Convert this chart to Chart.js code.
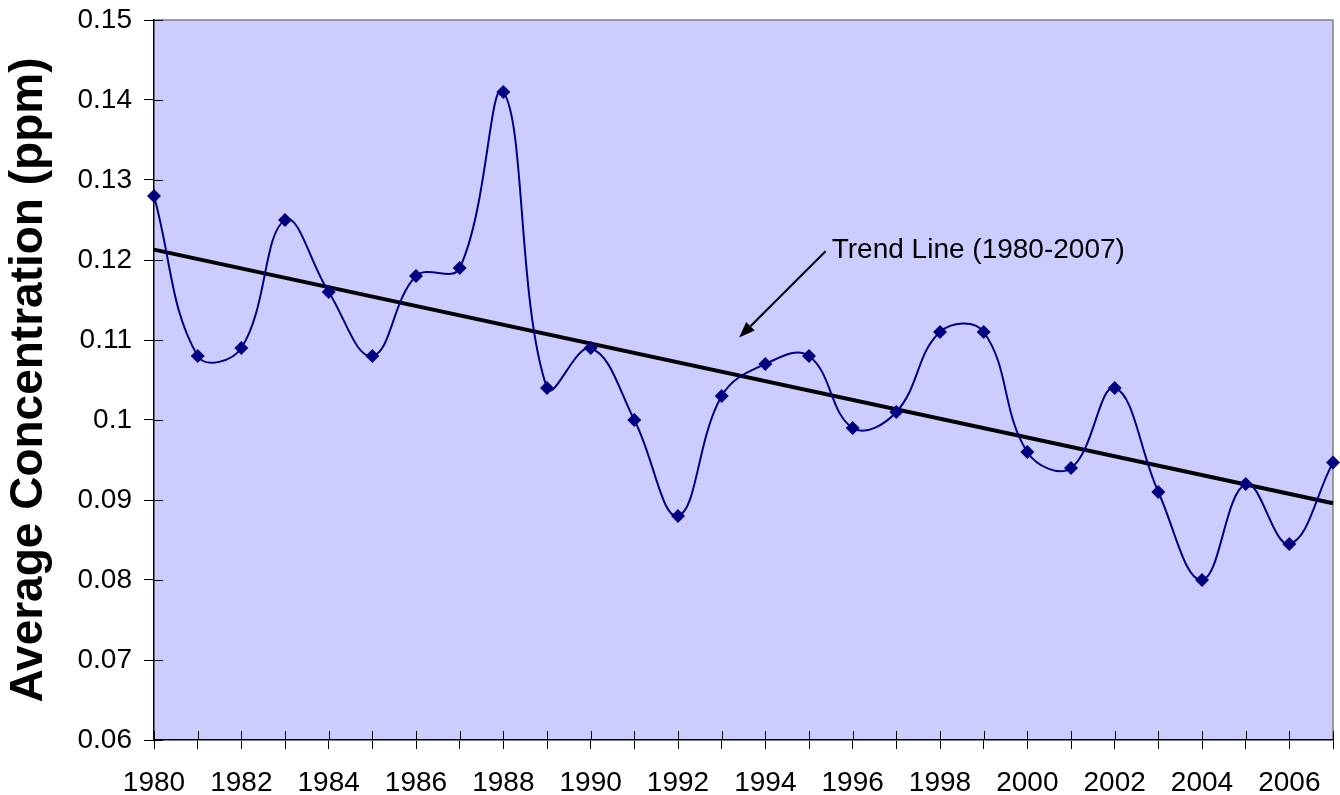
<!DOCTYPE html>
<html>
<head>
<meta charset="utf-8">
<title>Average Concentration 1980-2007</title>
<script src="https://cdn.jsdelivr.net/npm/chart.js@4/dist/chart.umd.min.js"></script>
<style>
  html, body { margin: 0; padding: 0; background: #fff; }
  #wrap { width: 1340px; height: 795px; }
</style>
</head>
<body>
<div id="wrap"><canvas id="chart"></canvas></div>
<script>
// data
const years = ['1980', '1981', '1982', '1983', '1984', '1985', '1986', '1987', '1988', '1989',
  '1990', '1991', '1992', '1993', '1994', '1995', '1996', '1997', '1998', '1999',
  '2000', '2001', '2002', '2003', '2004', '2005', '2006', '2007'];
const concentration = [0.128, 0.108, 0.109, 0.125, 0.116, 0.108, 0.118, 0.119, 0.141, 0.104,
  0.109, 0.100, 0.088, 0.103, 0.107, 0.108, 0.099, 0.101, 0.111, 0.111,
  0.096, 0.094, 0.104, 0.091, 0.080, 0.092, 0.0845, 0.0947];
// trend line end points (straight line between them)
const trendYears = ['1980', '2007'];
const trendValues = [0.1213, 0.0896];
const yMin = 0.06, yMax = 0.15, yStep = 0.01;

const FONT = '"Liberation Sans", Arial, Helvetica, sans-serif';

// annotation, in data space (category index, value)
const note = {
  text: 'Trend Line (1980-2007)',
  at: [15.52, 0.1203],
  arrowFrom: [15.38, 0.1211],
  arrowTo: [13.40, 0.1103]
};

// light purple plot area with gray frame
const plotBackground = {
  id: 'plotBackground',
  beforeDraw(chart) {
    const { ctx, chartArea: a } = chart;
    ctx.save();
    ctx.fillStyle = '#CCCCFF';
    ctx.fillRect(a.left, a.top, a.right - a.left, a.bottom - a.top);
    ctx.strokeStyle = '#808080';
    ctx.lineWidth = 1.5;
    ctx.beginPath();
    ctx.moveTo(a.left, a.top);
    ctx.lineTo(a.right, a.top);
    ctx.lineTo(a.right, a.bottom);
    ctx.stroke();
    ctx.restore();
  }
};

// tick marks crossing into the plot area, like the original
const innerTicks = {
  id: 'innerTicks',
  afterDatasetsDraw(chart) {
    const { ctx, chartArea: a, scales } = chart;
    ctx.save();
    ctx.strokeStyle = '#000';
    ctx.lineWidth = 1;
    ctx.beginPath();
    scales.x.ticks.forEach((t, i) => {
      const px = Math.round(scales.x.getPixelForTick(i)) + 0.5;
      ctx.moveTo(px, a.bottom);
      ctx.lineTo(px, a.bottom - 9);
    });
    scales.y.ticks.forEach((t, i) => {
      const py = Math.round(scales.y.getPixelForTick(i)) + 0.5;
      ctx.moveTo(a.left, py);
      ctx.lineTo(a.left + 9, py);
    });
    ctx.stroke();
    ctx.restore();
  }
};

const trendNote = {
  id: 'trendNote',
  afterDraw(chart) {
    const { ctx, scales: { x, y } } = chart;
    const p = (pt) => [x.getPixelForValue(pt[0]), y.getPixelForValue(pt[1])];
    const [tx, ty] = p(note.at);
    const [x0, y0] = p(note.arrowFrom);
    const [x1, y1] = p(note.arrowTo);
    ctx.save();
    ctx.fillStyle = '#000';
    ctx.font = '28px ' + FONT;
    ctx.textBaseline = 'alphabetic';
    ctx.textAlign = 'left';
    ctx.fillText(note.text, tx, ty);

    const ang = Math.atan2(y1 - y0, x1 - x0);
    const headLen = 16, headW = 6;
    const bx = x1 - headLen * Math.cos(ang), by = y1 - headLen * Math.sin(ang);
    ctx.strokeStyle = '#000';
    ctx.lineWidth = 2;
    ctx.beginPath();
    ctx.moveTo(x0, y0);
    ctx.lineTo(bx, by);
    ctx.stroke();
    ctx.beginPath();
    ctx.moveTo(x1, y1);
    ctx.lineTo(bx + headW * Math.sin(ang), by - headW * Math.cos(ang));
    ctx.lineTo(bx - headW * Math.sin(ang), by + headW * Math.cos(ang));
    ctx.closePath();
    ctx.fill();
    ctx.restore();
  }
};

new Chart(document.getElementById('chart'), {
  type: 'line',
  data: {
    labels: years,
    datasets: [
      {
        label: 'Trend',
        data: trendYears.map((yr, i) => ({ x: yr, y: trendValues[i] })),
        borderColor: '#000',
        borderWidth: 4,
        pointRadius: 0,
        tension: 0,
        order: 2
      },
      {
        label: 'Average Concentration',
        data: concentration,
        borderColor: '#000080',
        backgroundColor: '#000080',
        borderWidth: 2,
        pointStyle: 'rectRot',
        pointRadius: 7,
        pointBorderWidth: 0,
        tension: 0.4,
        order: 1
      }
    ]
  },
  options: {
    responsive: true,
    maintainAspectRatio: false,
    animation: false,
    layout: { padding: { top: 20, right: 1, left: 0, bottom: 0 } },
    plugins: {
      legend: { display: false },
      tooltip: { enabled: false }
    },
    scales: {
      x: {
        type: 'category',
        offset: false,
        border: { color: '#000', width: 1.5 },
        grid: { drawOnChartArea: false, tickLength: 9, color: '#000' },
        ticks: {
          autoSkip: false,
          maxRotation: 0,
          padding: 17,
          color: '#000',
          font: { family: FONT, size: 28 },
          callback: (v, i) => (i % 2 === 0 ? years[i] : '')
        },
        afterFit: (s) => {
          s.height = 55;
          s.paddingLeft = 0;
          s.paddingRight = 0;
        }
      },
      y: {
        min: yMin,
        max: yMax,
        border: { color: '#000', width: 1.5 },
        grid: { drawOnChartArea: false, tickLength: 10, color: '#000' },
        ticks: {
          stepSize: yStep,
          padding: 12,
          color: '#000',
          font: { family: FONT, size: 28 },
          callback: (v) => String(Math.round(v * 100) / 100)
        },
        title: {
          display: true,
          text: 'Average Concentration (ppm)',
          color: '#000',
          font: { family: FONT, size: 46, weight: 'bold' },
          padding: { top: 2, bottom: 0 }
        },
        afterFit: (s) => {
          s.width = 154;
          s.paddingTop = 0;
          s.paddingBottom = 0;
        }
      }
    }
  },
  plugins: [plotBackground, innerTicks, trendNote]
});
</script>
</body>
</html>
